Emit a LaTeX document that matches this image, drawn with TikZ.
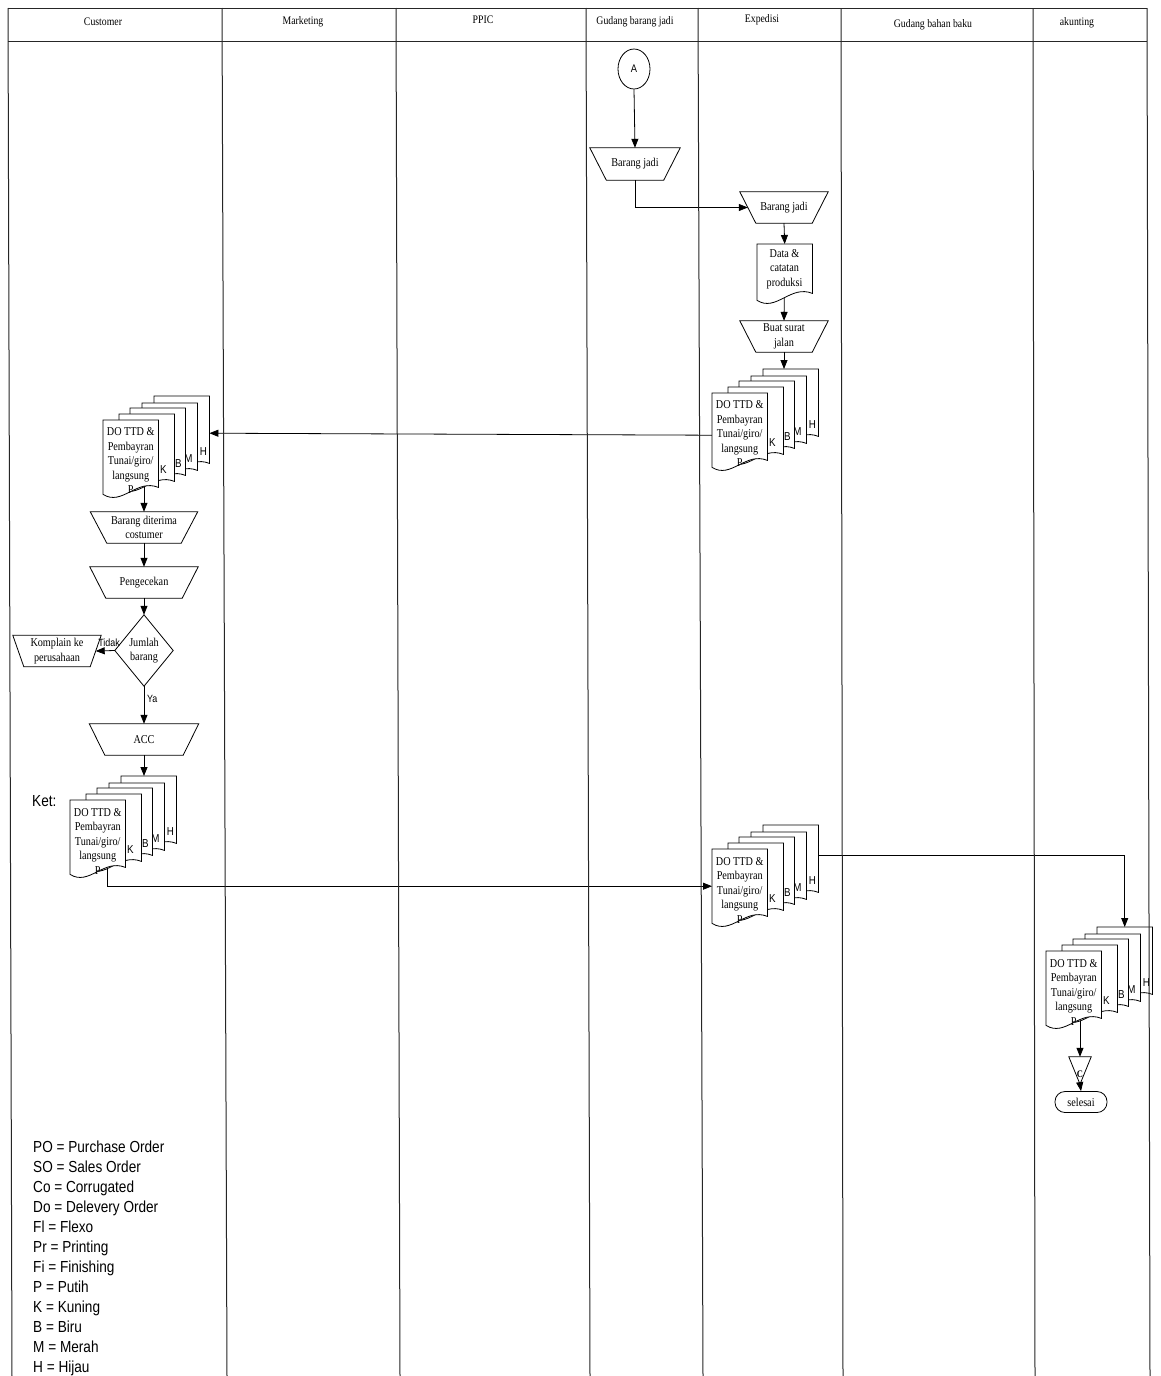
\documentclass[tikz,border=0pt]{standalone}
\usepackage{fontspec}
\setmainfont[FakeStretch=0.85]{Liberation Serif}
\newfontfamily\lblsans[FakeStretch=0.85]{Liberation Sans}
\usetikzlibrary{arrows.meta,shapes.geometric,calc}
\pgfdeclarelayer{bg}
\pgfsetlayers{bg,main}

\tikzset{
  txt/.style={font=\fontsize{12}{14.5}\selectfont, align=center, inner sep=0pt},
  hdr/.style={font=\fontsize{11.5}{13}\selectfont, inner sep=0pt},
  docbox/.style={minimum width=55, minimum height=74, inner sep=0pt, anchor=north west},
  docline/.style={line width=0.8pt, draw=black},
  colline/.style={line width=1pt, draw=black!85},
  stk/.style={font=\lblsans\fontsize{11.5}{13}\selectfont, inner sep=0pt},
  smalllbl/.style={font=\lblsans\fontsize{10.5}{12}\selectfont, inner sep=0pt},
  legendf/.style={font=\lblsans\fontsize{16}{20}\selectfont, inner sep=0pt, align=left},
  arr/.style={-{Triangle[length=9pt,width=7pt]}, line width=0.8pt},
}

\newcommand{\DocShape}[1]{%
  \draw[docline, fill=white] (#1.north west) -- (#1.north east) -- ([yshift=7]#1.south east)
    .. controls ([xshift=-22,yshift=16]#1.south east) and ([xshift=19.25,yshift=-12]#1.south west) .. (#1.south west) -- cycle;}

\newcommand{\TrapShape}[2]{%
  \draw[docline] (#1.north west) -- (#1.north east) -- ([xshift=-#2]#1.south east) -- ([xshift=#2]#1.south west) -- cycle;}

\newcommand{\DocStack}[3]{%
  \node[docbox] (#1H) at (#2+51,#3-24) {};
  \DocShape{#1H}
  \node[docbox] (#1M) at (#2+39,#3-17) {};
  \DocShape{#1M}
  \node[docbox] (#1B) at (#2+27,#3-12) {};
  \DocShape{#1B}
  \node[docbox] (#1K) at (#2+16,#3-6) {};
  \DocShape{#1K}
  \node[docbox] (#1P) at (#2,#3) {};
  \DocShape{#1P}
  \node[txt] (#1Pt) at ([yshift=-41]#1P.north) {DO TTD \&\\Pembayran\\Tunai/giro/\\langsung\\P};
  \node[stk] (#1Kl) at ([xshift=-11,yshift=-56]#1K.north east) {K};
  \node[stk] (#1Bl) at ([xshift=-7,yshift=-56]#1B.north east) {B};
  \node[stk] (#1Ml) at ([xshift=-9,yshift=-56]#1M.north east) {M};
  \node[stk] (#1Hl) at ([xshift=-6,yshift=-56]#1H.north east) {H};
}

\begin{document}
\begin{tikzpicture}[x=1pt,y=-1pt]
\useasboundingbox (0,0) rectangle (1161,1376);
\begin{pgfonlayer}{bg}
\fill[white] (0,0) rectangle (1161,1376);
\end{pgfonlayer}

% header texts
\node[hdr] (h1) at (103,22) {Customer};
\node[hdr] (h2) at (303,22) {Marketing};
\node[hdr] (h3) at (483,20) {PPIC};
\node[hdr] (h4) at (635,22) {Gudang barang jadi};
\node[hdr] (h5) at (762,20) {Expedisi};
\node[hdr] (h6) at (933,25) {Gudang bahan baku};
\node[hdr] (h7) at (1077,23) {akunting};

% Gudang barang jadi
\node[draw, ellipse, line width=0.8pt, minimum width=32, minimum height=40, inner sep=0pt,
      font=\lblsans\fontsize{11}{13}\selectfont] (A) at (634,69) {A};
\node[txt, minimum width=90, minimum height=32] (gbj) at (635,164) {Barang jadi};
\TrapShape{gbj}{16.5}

% Expedisi
\node[txt, minimum width=88, minimum height=31] (ebj) at (784,207.5) {Barang jadi};
\TrapShape{ebj}{16}
\node[docbox, minimum height=56] (edata) at (757,244) {};
\DocShape{edata}
\node[txt] (edatat) at (784.5,269) {Data \&\\catatan\\produksi};
\node[txt, minimum width=88, minimum height=31] (ebuat) at (784,336.5) {Buat surat\\jalan};
\TrapShape{ebuat}{16}
\DocStack{ESa}{712}{393}

% Customer
\DocStack{CSa}{103}{420}
\node[txt, minimum width=107, minimum height=31] (cbd) at (144,527.5) {Barang diterima\\costumer};
\TrapShape{cbd}{16.5}
\node[txt, minimum width=108, minimum height=31] (cpeng) at (144,582.5) {Pengecekan};
\TrapShape{cpeng}{16}
\node[txt, minimum width=58, minimum height=71] (dia) at (144,650.5) {Jumlah\\barang};
\draw[docline] (dia.north) -- (dia.east) -- (dia.south) -- (dia.west) -- cycle;
\node[txt, minimum width=88, minimum height=31] (komp) at (57,651) {Komplain ke\\perusahaan};
\TrapShape{komp}{11}
\node[smalllbl, anchor=east] (tidak) at (120,643) {Tidak};
\node[smalllbl, anchor=west] (ya) at (147,699) {Ya};
\node[txt, minimum width=109, minimum height=31] (cacc) at (144,739.5) {ACC};
\TrapShape{cacc}{15.5}
\DocStack{CSb}{70}{800}
\node[legendf, anchor=west] (ket) at (32,801) {Ket:};

% Expedisi bottom
\DocStack{ESb}{712}{849}

% akunting
\DocStack{ASa}{1046}{951}
\node[inner sep=0pt, minimum width=22, minimum height=27] (offp) at (1080,1070.5) {};
\draw[docline] (offp.north west) -- (offp.north east) -- (offp.south) -- cycle;
\node[font=\bfseries\fontsize{10}{12}\selectfont, inner sep=0pt] (offpC) at ([yshift=-4]offp.center) {C};
\node[txt, draw, line width=0.8pt, rounded corners=10pt, minimum width=52, minimum height=21] (sel) at (1081,1102) {selesai};

% legend
\node[legendf, anchor=north west] (legend) at (33,1141) {PO = Purchase Order\\SO = Sales Order\\Co = Corrugated\\Do = Delevery Order\\Fl = Flexo\\Pr = Printing\\Fi = Finishing\\P = Putih\\K = Kuning\\B = Biru\\M = Merah\\H = Hijau};

% connectors
\begin{pgfonlayer}{bg}
\draw[arr] (A.south) -- (gbj.north);
\draw[arr] (gbj.south) |- ([xshift=8]ebj.west);
\draw[arr] (ebj.south) -- (edata.north);
\draw[arr] (edata.center) -- (ebuat.north);
\draw[arr] (ebuat.south) -- (ebuat.south |- ESaH.north);
\draw[arr] ([yshift=-5]ESaP.west) -- (CSaH.east);
\draw[arr] (cbd.north |- CSaP.center) -- (cbd.north);
\draw[arr] (cbd.south) -- (cpeng.north);
\draw[arr] (cpeng.south) -- (dia.north);
\draw[arr] (dia.west) -- ([xshift=-5.5]komp.east);
\draw[arr] (dia.south) -- (cacc.north);
\draw[arr] (cacc.south) -- (cacc.south |- CSbH.north);
\draw[arr] ([xshift=10]CSbP.center) |- (ESbP.west);
\draw[arr] ([yshift=7]ESbH.east) -| (ASaH.north);
\draw[arr] (offp.north |- ASaP.center) -- (offp.north);
\draw[arr] (offp.south) -- (sel.north);
\end{pgfonlayer}

% swimlane frame
\draw[colline] (8,8) -- (1147,8);
\draw[colline] (8,41) -- (1147,41);
\draw[colline] (8,8) -- (12,1376);
\draw[colline] (222,8) -- (227,1376);
\draw[colline] (396,8) -- (400,1376);
\draw[colline] (586,8) -- (590,1376);
\draw[colline] (698,8) -- (703,1376);
\draw[colline] (841,8) -- (843,1376);
\draw[colline] (1033,8) -- (1035,1376);
\draw[colline] (1147,8) -- (1150,1376);
\end{tikzpicture}
\end{document}
